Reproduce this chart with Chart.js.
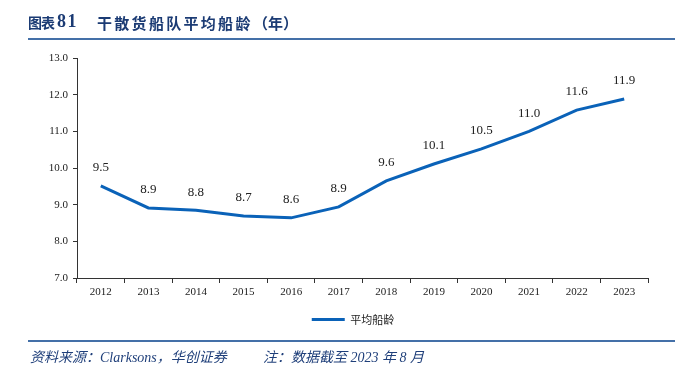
<!DOCTYPE html>
<html><head><meta charset="utf-8">
<script src="https://cdn.jsdelivr.net/npm/chart.js@4.4.0/dist/chart.umd.min.js"></script>
<style>
html,body{margin:0;padding:0;background:#fff;}
#wrap{position:relative;width:685px;height:380px;overflow:hidden;}
#c{position:absolute;left:0;top:0;}
.t{position:absolute;white-space:nowrap;}
.hl{position:absolute;left:28px;width:647px;height:2px;background:#4470a8;}
</style></head><body>
<div id="wrap">
<canvas id="c" width="685" height="380"></canvas>
<div class="t" style="left:28px;top:12px;line-height:20px;font:bold 14px 'Noto Sans CJK SC';letter-spacing:-1px;color:#1b3b74;">图表</div>
<div class="t" style="left:57px;top:11px;line-height:20px;font:bold 18px 'Liberation Serif';letter-spacing:1.5px;color:#1b3b74;">81</div>
<div class="t" style="left:97px;top:12px;line-height:20px;font:bold 15px 'Noto Sans CJK SC';letter-spacing:2.3px;color:#1b3b74;">干散货船队平均船龄</div>
<div class="t" style="left:253px;top:12px;line-height:20px;font:bold 15px 'Noto Sans CJK SC';color:#1b3b74;">（年）</div>
<div class="hl" style="top:38px;"></div>
<div class="hl" style="top:340px;"></div>
<div class="t" style="left:30px;top:346px;line-height:16px;font:italic 14px 'Liberation Serif','Noto Sans CJK SC';color:#1f3f7a;">资料来源：Clarksons，华创证券</div>
<div class="t" style="left:263px;top:346px;line-height:16px;font:italic 14px 'Liberation Serif','Noto Sans CJK SC';color:#1f3f7a;">注：数据截至 2023 年 8 月</div>
</div>
<script>
const categories = ['2012','2013','2014','2015','2016','2017','2018','2019','2020','2021','2022','2023'];
const avgAge = [9.51, 8.91, 8.85, 8.69, 8.64, 8.94, 9.65, 10.11, 10.52, 11.0, 11.58, 11.88];
const ageLabels = ['9.5','8.9','8.8','8.7','8.6','8.9','9.6','10.1','10.5','11.0','11.6','11.9'];
const seriesName = '平均船龄';
const yMin = 7, yMax = 13, yStep = 1;

const valueLabels = {
  id: 'valueLabels',
  afterLayout(chart) {
    // centre the legend under the plot area rather than the full canvas
    if (chart.legend) { chart.legend.left = 58; }
  },
  afterDatasetsDraw(chart) {
    const ctx = chart.ctx;
    const meta = chart.getDatasetMeta(0);
    ctx.save();
    ctx.font = '13px "Liberation Serif"';
    ctx.fillStyle = '#222';
    ctx.textAlign = 'center';
    ctx.textBaseline = 'middle';
    meta.data.forEach((p, i) => {
      ctx.fillText(ageLabels[i], p.x, p.y - 18);
    });
    ctx.restore();
  }
};

new Chart(document.getElementById('c'), {
  type: 'line',
  data: {
    labels: categories,
    datasets: [{
      label: seriesName,
      data: avgAge,
      borderColor: '#0a62b8',
      backgroundColor: '#0a62b8',
      borderWidth: 3,
      pointRadius: 0,
      tension: 0,
      clip: false
    }]
  },
  options: {
    responsive: false,
    animation: false,
    layout: { padding: { left: 0, right: 37, top: 58, bottom: 45 } },
    plugins: {
      tooltip: { enabled: false },
      legend: {
        position: 'bottom',
        labels: {
          usePointStyle: true,
          pointStyle: 'line',
          pointStyleWidth: 33,
          padding: 10,
          color: '#222',
          font: { size: 11, family: '"Noto Sans CJK SC"' }
        }
      }
    },
    scales: {
      x: {
        offset: true,
        afterFit: s => { s.height = 26; },
        grid: { display: true, offset: true, drawOnChartArea: false, drawTicks: true, tickLength: 5, color: '#333' },
        border: { display: true, color: '#333', width: 1 },
        ticks: { padding: 3, color: '#222', font: { size: 11, family: '"Liberation Serif"' } }
      },
      y: {
        min: yMin, max: yMax,
        afterFit: s => { s.width = 77; },
        grid: { display: true, drawOnChartArea: false, drawTicks: true, tickLength: 4, color: '#333' },
        border: { display: true, color: '#333', width: 1 },
        ticks: { stepSize: yStep, padding: 5, color: '#222', font: { size: 11, family: '"Liberation Serif"' },
          callback: v => Number(v).toFixed(1) }
      }
    }
  },
  plugins: [valueLabels]
});
</script>
</body></html>
